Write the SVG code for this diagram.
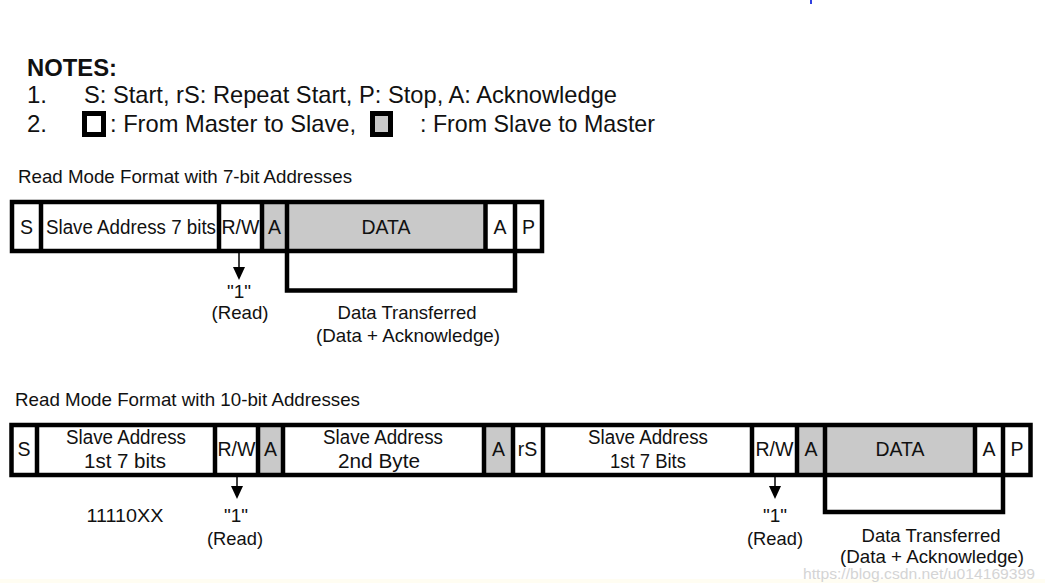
<svg xmlns="http://www.w3.org/2000/svg" width="1045" height="583" viewBox="0 0 1045 583">
<style>
  text { font-family: "Liberation Sans", Arial, sans-serif; fill: #111; }
  .note { font-size: 24px; }
  .bold { font-weight: bold; }
  .head { font-size: 18.5px; }
  .cell { font-size: 19.5px; text-anchor: middle; }
  .lbl { font-size: 19px; text-anchor: middle; }
  .frame { fill: none; stroke: #000; stroke-width: 4.5; }
  .div { stroke: #000; stroke-width: 4.5; }
  .gray { fill: #c9c9c9; }
  .white { fill: #fff; }
  .arr { stroke: #000; stroke-width: 1.5; }
  .wm { font-size: 15px; fill: #d4d4d4; }
</style>
<rect x="0" y="0" width="1045" height="583" fill="#fff"/>
<rect x="810" y="0" width="2" height="4" fill="#3040e0"/>
<rect x="0" y="579" width="1045" height="4" fill="#fffdf2"/>

<g id="notes">
  <text class="note bold" x="27" y="76" textLength="90" lengthAdjust="spacingAndGlyphs">NOTES:</text>
  <text class="note" x="27" y="103">1.</text>
  <text class="note" x="84" y="103" textLength="533" lengthAdjust="spacingAndGlyphs">S: Start, rS: Repeat Start, P: Stop, A: Acknowledge</text>
  <text class="note" x="27" y="132">2.</text>
  <rect x="84.5" y="113.5" width="19" height="21" fill="#fff" stroke="#000" stroke-width="5"/>
  <text class="note" x="110" y="132" textLength="246" lengthAdjust="spacingAndGlyphs">: From Master to Slave,</text>
  <rect x="372.5" y="113.5" width="18" height="21" fill="#c9c9c9" stroke="#000" stroke-width="5"/>
  <text class="note" x="420" y="132" textLength="235" lengthAdjust="spacingAndGlyphs">: From Slave to Master</text>
</g>

<!-- Row 1: 7-bit -->
<text class="head" x="18" y="183" textLength="334" lengthAdjust="spacingAndGlyphs">Read Mode Format with 7-bit Addresses</text>
<g id="row1">
  <g id="r1-S"><rect class="white" x="12" y="202" width="29" height="49"/><text class="cell" x="26.5" y="234">S</text></g>
  <g id="r1-addr"><rect class="white" x="41" y="202" width="178" height="49"/><text class="cell" x="131" y="234" textLength="170" lengthAdjust="spacingAndGlyphs">Slave Address 7 bits</text></g>
  <g id="r1-rw"><rect class="white" x="219" y="202" width="43" height="49"/><text class="cell" x="240.5" y="234" textLength="38" lengthAdjust="spacingAndGlyphs">R/W</text></g>
  <g id="r1-A1"><rect class="gray" x="262" y="202" width="25" height="49"/><text class="cell" x="274.5" y="234">A</text></g>
  <g id="r1-data"><rect class="gray" x="287" y="202" width="198.5" height="49"/><text class="cell" x="386" y="234" textLength="49" lengthAdjust="spacingAndGlyphs">DATA</text></g>
  <g id="r1-A2"><rect class="white" x="485.5" y="202" width="29.5" height="49"/><text class="cell" x="500" y="234">A</text></g>
  <g id="r1-P"><rect class="white" x="515" y="202" width="27" height="49"/><text class="cell" x="528.5" y="234">P</text></g>
  <rect class="frame" x="12" y="202" width="530" height="49"/>
  <line class="div" x1="41" y1="202" x2="41" y2="251"/>
  <line class="div" x1="219" y1="202" x2="219" y2="251"/>
  <line class="div" x1="262" y1="202" x2="262" y2="251"/>
  <line class="div" x1="287" y1="202" x2="287" y2="251"/>
  <line class="div" x1="485.5" y1="202" x2="485.5" y2="251"/>
  <line class="div" x1="515" y1="202" x2="515" y2="251"/>
</g>
<g id="row1-labels">
  <text class="lbl" x="239" y="298">"1"</text>
  <text class="lbl" x="240" y="319" textLength="57" lengthAdjust="spacingAndGlyphs">(Read)</text>
  <text class="lbl" x="407" y="319" textLength="139" lengthAdjust="spacingAndGlyphs">Data Transferred</text>
  <text class="lbl" x="408" y="342" textLength="184" lengthAdjust="spacingAndGlyphs">(Data + Acknowledge)</text>
</g>

<!-- Row 2: 10-bit -->
<text class="head" x="15" y="406" textLength="345" lengthAdjust="spacingAndGlyphs">Read Mode Format with 10-bit Addresses</text>
<g id="row2">
  <g id="r2-S"><rect class="white" x="11.5" y="425" width="25.5" height="50"/><text class="cell" x="24" y="456">S</text></g>
  <g id="r2-addr1"><rect class="white" x="37" y="425" width="178" height="50"/><text class="cell" x="126" y="444" textLength="120" lengthAdjust="spacingAndGlyphs">Slave Address</text><text class="cell" x="125" y="468" textLength="82" lengthAdjust="spacingAndGlyphs">1st 7 bits</text></g>
  <g id="r2-rw1"><rect class="white" x="215" y="425" width="43" height="50"/><text class="cell" x="236.5" y="456" textLength="38" lengthAdjust="spacingAndGlyphs">R/W</text></g>
  <g id="r2-A1"><rect class="gray" x="258" y="425" width="25" height="50"/><text class="cell" x="270.5" y="456">A</text></g>
  <g id="r2-addr2"><rect class="white" x="283" y="425" width="201" height="50"/><text class="cell" x="383" y="444" textLength="120" lengthAdjust="spacingAndGlyphs">Slave Address</text><text class="cell" x="379" y="468" textLength="82" lengthAdjust="spacingAndGlyphs">2nd Byte</text></g>
  <g id="r2-A2"><rect class="gray" x="484" y="425" width="29" height="50"/><text class="cell" x="498.5" y="456">A</text></g>
  <g id="r2-rS"><rect class="white" x="513" y="425" width="30" height="50"/><text class="cell" x="527.5" y="456">rS</text></g>
  <g id="r2-addr3"><rect class="white" x="543" y="425" width="209" height="50"/><text class="cell" x="648" y="444" textLength="120" lengthAdjust="spacingAndGlyphs">Slave Address</text><text class="cell" x="648" y="468" textLength="76" lengthAdjust="spacingAndGlyphs">1st 7 Bits</text></g>
  <g id="r2-rw2"><rect class="white" x="752" y="425" width="45" height="50"/><text class="cell" x="774.5" y="456" textLength="38" lengthAdjust="spacingAndGlyphs">R/W</text></g>
  <g id="r2-A3"><rect class="gray" x="797" y="425" width="28" height="50"/><text class="cell" x="811" y="456">A</text></g>
  <g id="r2-data"><rect class="gray" x="825" y="425" width="150" height="50"/><text class="cell" x="900" y="456" textLength="49" lengthAdjust="spacingAndGlyphs">DATA</text></g>
  <g id="r2-A4"><rect class="white" x="975" y="425" width="28" height="50"/><text class="cell" x="989" y="456">A</text></g>
  <g id="r2-P"><rect class="white" x="1003" y="425" width="27.5" height="50"/><text class="cell" x="1017" y="456">P</text></g>
  <rect class="frame" x="11.5" y="425" width="1019" height="50"/>
  <line class="div" x1="37" y1="425" x2="37" y2="475"/>
  <line class="div" x1="215" y1="425" x2="215" y2="475"/>
  <line class="div" x1="258" y1="425" x2="258" y2="475"/>
  <line class="div" x1="283" y1="425" x2="283" y2="475"/>
  <line class="div" x1="484" y1="425" x2="484" y2="475"/>
  <line class="div" x1="513" y1="425" x2="513" y2="475"/>
  <line class="div" x1="543" y1="425" x2="543" y2="475"/>
  <line class="div" x1="752" y1="425" x2="752" y2="475"/>
  <line class="div" x1="797" y1="425" x2="797" y2="475"/>
  <line class="div" x1="825" y1="425" x2="825" y2="475"/>
  <line class="div" x1="975" y1="425" x2="975" y2="475"/>
  <line class="div" x1="1003" y1="425" x2="1003" y2="475"/>
</g>
<g id="row2-labels">
  <text class="lbl" x="125" y="522" textLength="77" lengthAdjust="spacingAndGlyphs">11110XX</text>
  <text class="lbl" x="236" y="522">"1"</text>
  <text class="lbl" x="235" y="545" textLength="56" lengthAdjust="spacingAndGlyphs">(Read)</text>
  <text class="lbl" x="775" y="522">"1"</text>
  <text class="lbl" x="775" y="545" textLength="56" lengthAdjust="spacingAndGlyphs">(Read)</text>
  <text class="lbl" x="931" y="542" textLength="139" lengthAdjust="spacingAndGlyphs">Data Transferred</text>
  <text class="lbl" x="932" y="563" textLength="184" lengthAdjust="spacingAndGlyphs">(Data + Acknowledge)</text>
</g>

<g id="connectors">
  <line class="arr" x1="239" y1="253" x2="239" y2="268"/>
  <polygon points="233,267 245,267 239,280" fill="#000"/>
  <path class="frame" d="M287,251 V290.5 H515 V251"/>
  <line class="arr" x1="237" y1="477" x2="237" y2="487"/>
  <polygon points="231,486 243,486 237,499" fill="#000"/>
  <line class="arr" x1="775" y1="477" x2="775" y2="487"/>
  <polygon points="769,486 781,486 775,499" fill="#000"/>
  <path class="frame" d="M825,475 V512 H1003 V475"/>
</g>

<text class="wm" x="803" y="579" textLength="232" lengthAdjust="spacingAndGlyphs">https://blog.csdn.net/u014169399</text>
</svg>
